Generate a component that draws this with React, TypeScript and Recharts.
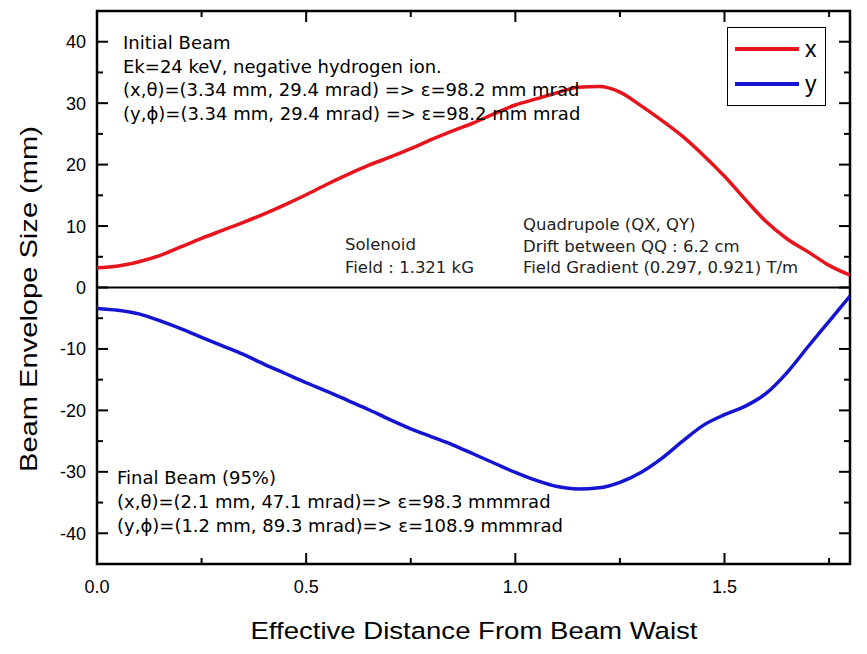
import {
  LineChart,
  Line,
  XAxis,
  YAxis,
  ReferenceLine,
  ReferenceArea,
} from "recharts";

const distance = [
  0, 0.05, 0.1, 0.15, 0.2, 0.25, 0.3, 0.35, 0.4, 0.45, 0.5, 0.55, 0.6, 0.65,
  0.7, 0.75, 0.8, 0.85, 0.9, 0.95, 1.0, 1.05, 1.1, 1.15, 1.2, 1.25, 1.3, 1.35,
  1.4, 1.45, 1.5, 1.55, 1.6, 1.65, 1.7, 1.75, 1.8,
];

const envelopeX = [
  3.2, 3.5, 4.2, 5.2, 6.6, 8.0, 9.3, 10.6, 12.0, 13.5, 15.1, 16.8, 18.4, 19.9,
  21.2, 22.6, 24.1, 25.5, 26.8, 28.3, 29.7, 30.7, 31.7, 32.6, 32.7, 31.8, 29.6,
  27.2, 24.6, 21.5, 18.1, 14.3, 10.7, 7.9, 5.8, 3.6, 2.0,
];

const envelopeY = [
  -3.4, -3.7, -4.3, -5.4, -6.7, -8.1, -9.5, -10.9, -12.5, -14.0, -15.5, -16.9,
  -18.4, -19.9, -21.5, -23.0, -24.3, -25.6, -27.1, -28.6, -30.1, -31.4, -32.4,
  -32.8, -32.6, -31.7, -30.1, -27.8, -25.0, -22.4, -20.7, -19.3, -17.2, -13.8,
  -9.6, -5.5, -1.4,
];

const xTicks = [0, 0.25, 0.5, 0.75, 1.0, 1.25, 1.5, 1.75];
const yTicks = [-40, -35, -30, -25, -20, -15, -10, -5, 0, 5, 10, 15, 20, 25, 30, 35, 40];

const series = [
  { key: "x", color: "#e8141c" },
  { key: "y", color: "#1414d2" },
];

const initialBeam = [
  "Initial Beam",
  "Ek=24 keV, negative hydrogen ion.",
  "(x,θ)=(3.34 mm, 29.4 mrad) => ε=98.2 mm mrad",
  "(y,ϕ)=(3.34 mm, 29.4 mrad) => ε=98.2 mm mrad",
];
const solenoid = ["Solenoid", "Field : 1.321 kG"];
const quadrupole = [
  "Quadrupole (QX, QY)",
  "Drift between QQ : 6.2 cm",
  "Field Gradient (0.297, 0.921) T/m",
];
const finalBeam = [
  "Final Beam (95%)",
  "(x,θ)=(2.1 mm, 47.1 mrad)=> ε=98.3 mmmrad",
  "(y,ϕ)=(1.2 mm, 89.3 mrad)=> ε=108.9 mmmrad",
];

const data = distance.map((d, i) => ({ d, x: envelopeX[i], y: envelopeY[i] }));

const TOP = 11;
const BOTTOM = 564;
const LEFT = 97;
const RIGHT = 850;
const AXIS_FONT = "'Liberation Sans', Arial, sans-serif";
const NOTE_FONT = "'DejaVu Sans', Verdana, sans-serif";

function XTick(props: any) {
  const { x, payload } = props;
  const v = payload.value;
  const major = Math.abs(v * 2 - Math.round(v * 2)) < 1e-6;
  const len = major ? 11 : 6;
  return (
    <g>
      <line x1={x} x2={x} y1={BOTTOM} y2={BOTTOM - len} stroke="#000" strokeWidth={2} />
      <line x1={x} x2={x} y1={TOP} y2={TOP + len} stroke="#000" strokeWidth={2} />
      {major && (
        <text x={x} y={593} textAnchor="middle" fontSize={18} fontFamily={AXIS_FONT} fill="#000">
          {v.toFixed(1)}
        </text>
      )}
    </g>
  );
}

function YTick(props: any) {
  const { y, payload } = props;
  const v = payload.value;
  const major = v % 10 === 0;
  const len = major ? 11 : 6;
  return (
    <g>
      <line x1={LEFT} x2={LEFT + len} y1={y} y2={y} stroke="#000" strokeWidth={2} />
      <line x1={RIGHT} x2={RIGHT - len} y1={y} y2={y} stroke="#000" strokeWidth={2} />
      {major && (
        <text x={86} y={y + 6.5} textAnchor="end" fontSize={18} fontFamily={AXIS_FONT} fill="#000">
          {v}
        </text>
      )}
    </g>
  );
}

function XTitle() {
  return (
    <text
      x={474}
      y={639}
      textAnchor="middle"
      fontSize={24.5}
      fontFamily={AXIS_FONT}
      textLength={447}
      lengthAdjust="spacingAndGlyphs"
      fill="#000"
    >
      Effective Distance From Beam Waist
    </text>
  );
}

function YTitle() {
  return (
    <text
      transform="rotate(-90)"
      x={-299}
      y={37}
      textAnchor="middle"
      fontSize={24.5}
      fontFamily={AXIS_FONT}
      textLength={346}
      lengthAdjust="spacingAndGlyphs"
      fill="#000"
    >
      Beam Envelope Size (mm)
    </text>
  );
}

function LegendBox() {
  return (
    <div
      style={{
        position: "absolute",
        left: 727,
        top: 27,
        width: 97,
        height: 77,
        border: "1.5px solid #000",
        background: "#fff",
      }}
    >
      {series.map((s, i) => (
        <div
          key={s.key}
          style={{ position: "absolute", left: 7, top: 9 + i * 35, display: "flex", alignItems: "center" }}
        >
          <div style={{ width: 64, height: 4, background: s.color }} />
          <span
            style={{ marginLeft: 6, fontFamily: AXIS_FONT, fontSize: 23, lineHeight: "24px", color: "#000" }}
          >
            {s.key}
          </span>
        </div>
      ))}
    </div>
  );
}

function Note({ lines, left, top, lh, size, color }: any) {
  return (
    <div
      style={{
        position: "absolute",
        left,
        top,
        fontFamily: NOTE_FONT,
        fontSize: size,
        lineHeight: `${lh}px`,
        color,
        whiteSpace: "pre",
      }}
    >
      {lines.map((l: string) => (
        <div key={l}>{l}</div>
      ))}
    </div>
  );
}

export default function App() {
  return (
    <div style={{ position: "absolute", left: 0, top: 0, width: 867, height: 654, background: "#fff" }}>
      <LineChart
        width={867}
        height={654}
        data={data}
        margin={{ top: TOP, right: 867 - RIGHT, left: 0, bottom: 0 }}
      >
        <XAxis
          type="number"
          dataKey="d"
          domain={[0, 1.8]}
          ticks={xTicks}
          tick={<XTick />}
          tickLine={false}
          axisLine={false}
          height={654 - BOTTOM}
          allowDataOverflow
          interval={0}
          label={<XTitle />}
        />
        <YAxis
          type="number"
          domain={[-45, 45]}
          ticks={yTicks}
          tick={<YTick />}
          tickLine={false}
          axisLine={false}
          width={LEFT}
          allowDataOverflow
          interval={0}
          label={<YTitle />}
        />
        <ReferenceArea
          x1={0}
          x2={1.8}
          y1={-45}
          y2={45}
          fill="none"
          stroke="#000"
          strokeWidth={2.5}
          fillOpacity={0}
        />
        <ReferenceLine y={0} stroke="#000" strokeWidth={2} />
        {series.map((s) => (
          <Line
            key={s.key}
            dataKey={s.key}
            name={s.key}
            type="monotone"
            stroke={s.color}
            strokeWidth={3.5}
            dot={false}
            isAnimationActive={false}
          />
        ))}
      </LineChart>
      <LegendBox />
      <Note lines={initialBeam} left={123} top={31} lh={23.5} size={18} color="#000" />
      <Note lines={solenoid} left={345} top={233} lh={23} size={16.5} color="#222" />
      <Note lines={quadrupole} left={523} top={214} lh={21.5} size={16.5} color="#222" />
      <Note lines={finalBeam} left={117} top={466} lh={24} size={18} color="#000" />
    </div>
  );
}
